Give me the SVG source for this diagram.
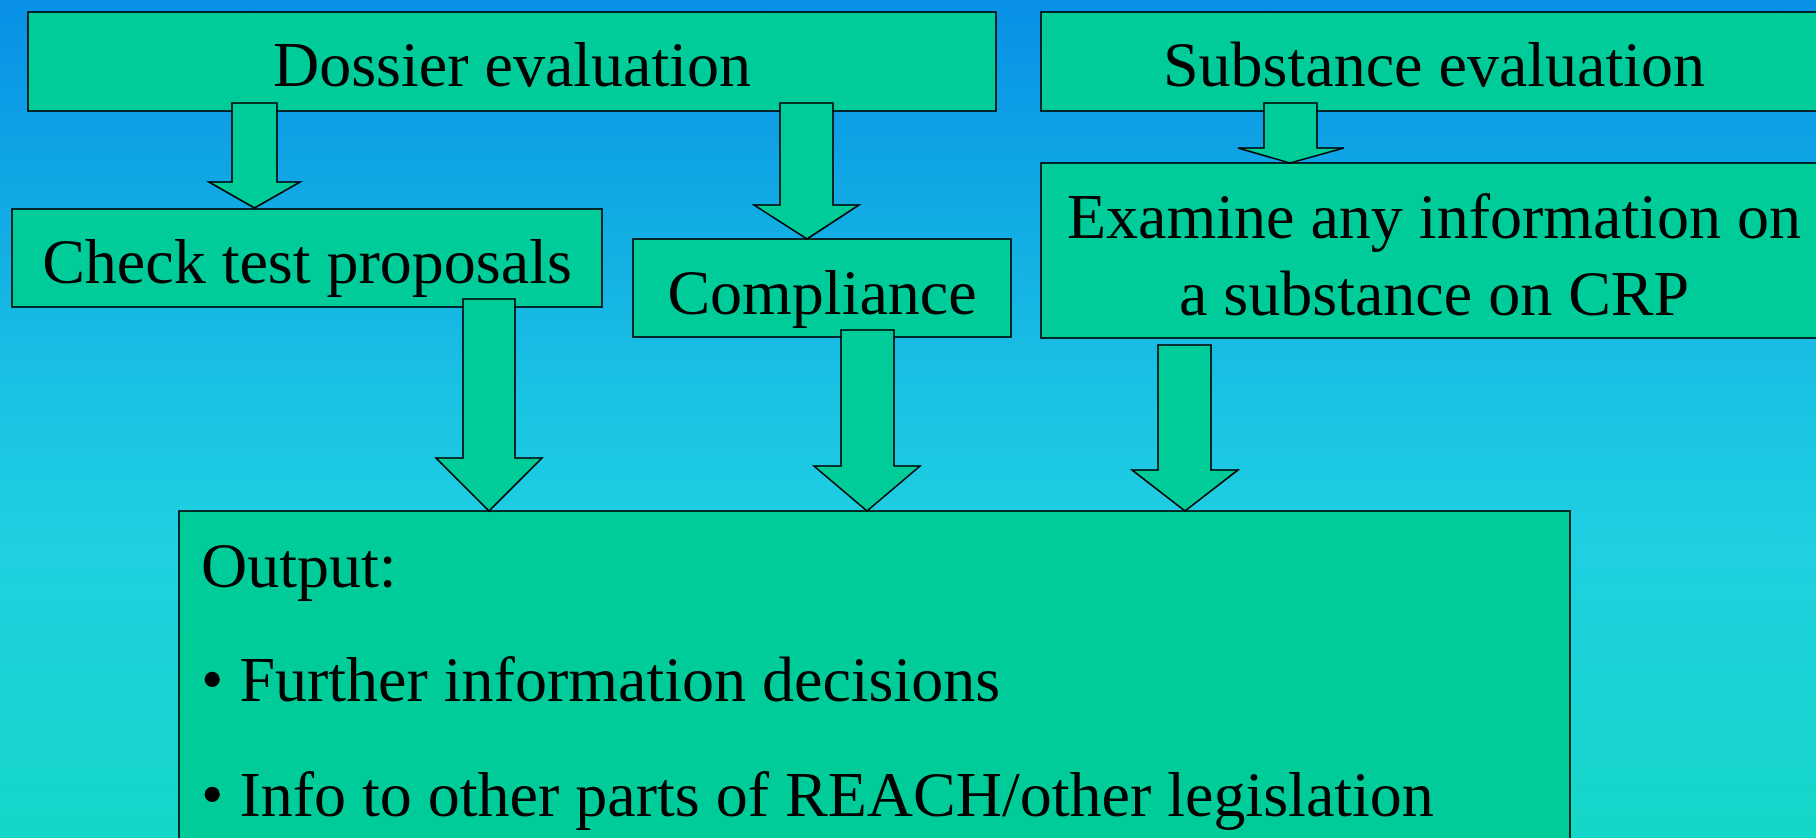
<svg xmlns="http://www.w3.org/2000/svg" width="1816" height="838" viewBox="0 0 1816 838">
<defs>
<linearGradient id="bg" x1="0" y1="0" x2="0" y2="1">
<stop offset="0" stop-color="#0890E6"/>
<stop offset="0.48" stop-color="#1AC3E3"/>
<stop offset="0.65" stop-color="#1FD0E2"/>
<stop offset="1" stop-color="#14D7C7"/>
</linearGradient>
<style>
.box{fill:#00CC99;stroke:#000;stroke-width:1.6}
.arr{fill:#00CC99;stroke:#000;stroke-width:1.6;stroke-linejoin:miter}
.t{font-family:"Liberation Serif","Times New Roman",serif;font-size:64px;fill:#000}
.c{text-anchor:middle}
</style>
</defs>
<rect x="0" y="0" width="1816" height="838" fill="url(#bg)"/>
<g id="dossier">
<rect class="box" x="28" y="12" width="968" height="99"/>
<text class="t c" x="512" y="86">Dossier evaluation</text>
</g>
<g id="substance">
<rect class="box" x="1041" y="12" width="790" height="99"/>
<text class="t c" x="1434" y="86">Substance evaluation</text>
</g>
<g id="check">
<rect class="box" x="12" y="209" width="590" height="98"/>
<text class="t c" x="307" y="283">Check test proposals</text>
</g>
<g id="compliance">
<rect class="box" x="633" y="239" width="378" height="98"/>
<text class="t c" x="822" y="314">Compliance</text>
</g>
<g id="examine">
<rect class="box" x="1041" y="163" width="790" height="175"/>
<text class="t c" x="1434" y="238">Examine any information on</text>
<text class="t c" x="1434" y="315">a substance on CRP</text>
</g>
<g id="output">
<rect class="box" x="179" y="511" width="1391" height="340"/>
<text class="t" x="201" y="587">Output:</text>
<text class="t" x="201" y="701">• Further information decisions</text>
<text class="t" x="201" y="816">• Info to other parts of REACH/other legislation</text>
</g>
<g id="connectors">
<polygon class="arr" points="232,103 277,103 277,182 300,182 254.5,208 209,182 232,182"/>
<polygon class="arr" points="780,103 833,103 833,205 859,205 807,239 754,205 780,205"/>
<polygon class="arr" points="1264,103 1317,103 1317,148 1344,148 1290,163 1238,148 1264,148"/>
<polygon class="arr" points="463,299 515,299 515,458 542,458 489,511 436,458 463,458"/>
<polygon class="arr" points="841,330 894,330 894,466 920,466 867,511 814,466 841,466"/>
<polygon class="arr" points="1158,345 1211,345 1211,470 1238,470 1185,511 1132,470 1158,470"/>
</g>
</svg>
